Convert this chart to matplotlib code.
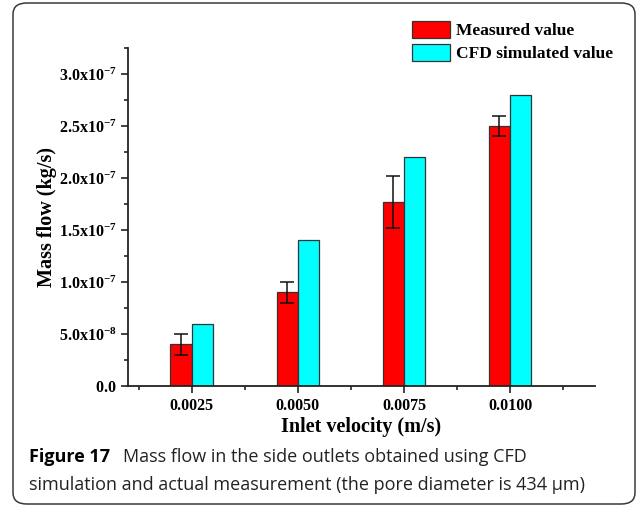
import matplotlib
matplotlib.use("Agg")
import matplotlib.pyplot as plt
from matplotlib.patches import FancyBboxPatch
from matplotlib.ticker import FixedLocator, FuncFormatter, MultipleLocator
import numpy as np

# Data
velocity = [0.0025, 0.0050, 0.0075, 0.0100]
velocity_labels = ["0.0025", "0.0050", "0.0075", "0.0100"]
measured = [4.0e-8, 9.0e-8, 1.77e-7, 2.5e-7]
measured_err = [1.0e-8, 1.0e-8, 2.5e-8, 1.0e-8]
simulated = [6.0e-8, 1.4e-7, 2.2e-7, 2.8e-7]
series_names = ["Measured value", "CFD simulated value"]

W, H = 637, 507
plt.rcParams["mathtext.fontset"] = "custom"
plt.rcParams["mathtext.rm"] = "Liberation Serif:bold"
plt.rcParams["mathtext.bf"] = "Liberation Serif:bold"
plt.rcParams["mathtext.it"] = "Liberation Serif:bold"

fig = plt.figure(figsize=(W / 100, H / 100), dpi=100)

# rounded frame around the figure and caption
frame = FancyBboxPatch((13 / W, 3 / H), 622 / W, 501 / H,
                       boxstyle="round,pad=0,rounding_size=0.022",
                       transform=fig.transFigure, fill=False,
                       edgecolor="#3a3a3a", linewidth=1.1)
fig.patches.append(frame)

ax = fig.add_axes([128 / W, 1 - 386 / H, (595 - 128) / W, (386 - 48) / H])

bw = 0.0005
x = np.array(velocity)
edge = "#333333"
ax.bar(x - bw / 2, measured, width=bw, color="#ff0000", edgecolor=edge,
       linewidth=0.9, label=series_names[0], zorder=2)
ax.errorbar(x - bw / 2, measured, yerr=measured_err, fmt="none",
            ecolor="#111111", elinewidth=1.1, capsize=4.8, capthick=1.1, zorder=3)
ax.bar(x + bw / 2, simulated, width=bw, color="#00ffff", edgecolor=edge,
       linewidth=0.9, label=series_names[1], zorder=2)

ax.set_xlim(0.001, 0.012)
ax.set_ylim(0, 3.25e-7)

for s in ["top", "right"]:
    ax.spines[s].set_visible(False)
for s in ["left", "bottom"]:
    ax.spines[s].set_linewidth(1.3)
    ax.spines[s].set_color("#222222")

ax.xaxis.set_major_locator(FixedLocator(velocity))
ax.set_xticklabels(velocity_labels)
ax.xaxis.set_minor_locator(FixedLocator([0.00125, 0.00375, 0.00625, 0.00875, 0.01125]))
ax.yaxis.set_major_locator(MultipleLocator(5e-8))
ax.yaxis.set_minor_locator(MultipleLocator(2.5e-8))


def sci(v, pos):
    if abs(v) < 1e-12:
        return r"$\mathbf{0.0}$"
    e = int(np.floor(np.log10(abs(v))))
    m = v / 10 ** e
    return r"$\mathbf{%.1fx10^{%d}}$" % (m, e)


ax.yaxis.set_major_formatter(FuncFormatter(sci))
ax.tick_params(axis="both", which="major", direction="out", length=5, width=1.2,
               color="#222222", labelsize=11.5, pad=3)
ax.tick_params(axis="x", which="major", pad=4)
ax.tick_params(axis="both", which="minor", direction="out", length=3, width=1.2,
               color="#222222")
for lab in ax.get_xticklabels():
    lab.set_fontfamily("Liberation Serif")
    lab.set_fontweight("bold")

ax.set_ylabel("Mass flow (kg/s)", fontfamily="Liberation Serif", fontweight="bold",
              fontsize=14.5)
ax.set_xlabel("Inlet velocity (m/s)", fontfamily="Liberation Serif", fontweight="bold",
              fontsize=14.5, labelpad=2)
ax.yaxis.set_label_coords((57 - 128) / (595 - 128), 0.5)

leg = ax.legend(loc="upper left", bbox_to_anchor=(412 / W, 1 - 21 / H),
                bbox_transform=fig.transFigure, frameon=False,
                prop={"family": "Liberation Serif", "weight": "bold", "size": 12.5},
                handlelength=2.2, handleheight=1.15, handletextpad=0.35,
                labelspacing=0.25, borderpad=0, borderaxespad=0)

# caption
cap_size = 13.0
t1 = fig.text(29 / W, 1 - 457 / H, "Figure 17", fontfamily="Open Sans",
              fontweight="bold", fontsize=cap_size, va="center", ha="left")
fig.canvas.draw()
bb = t1.get_window_extent()
fig.text(bb.x1 / W + 13 / W, 1 - 457 / H, "Mass flow in the side outlets obtained using CFD",
         fontfamily="Open Sans", fontsize=cap_size, va="center", ha="left", color="#222222")
fig.text(29 / W, 1 - 485 / H,
         "simulation and actual measurement (the pore diameter is 434 \u03bcm)",
         fontfamily="Open Sans", fontsize=cap_size, va="center", ha="left", color="#222222")

fig.savefig("out.png", dpi=100)
